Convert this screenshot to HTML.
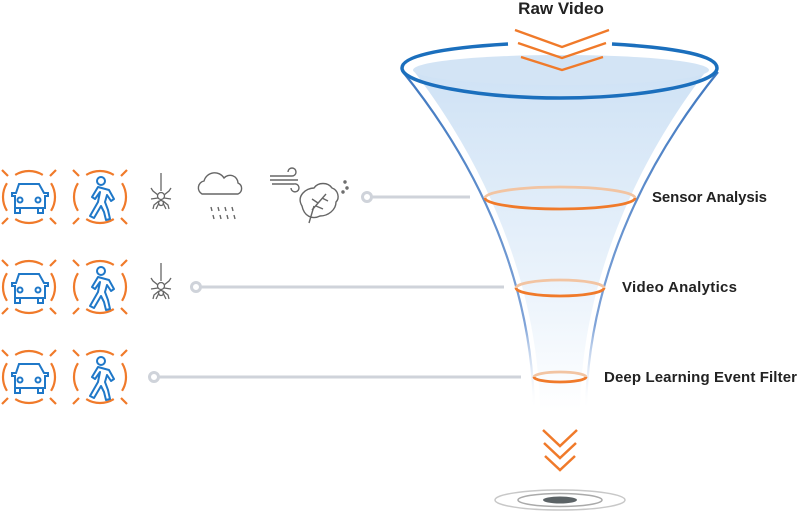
<!DOCTYPE html>
<html><head><meta charset="utf-8"><style>
html,body{margin:0;padding:0;background:#fff;}
svg{display:block;font-family:"Liberation Sans",sans-serif;}
</style></head><body>
<svg width="800" height="515" viewBox="0 0 800 515" xmlns="http://www.w3.org/2000/svg">
<defs>
<linearGradient id="fg" x1="0" y1="0" x2="0" y2="1">
<stop offset="0" stop-color="#cfe2f5"/><stop offset="0.7" stop-color="#eef5fc"/><stop offset="1" stop-color="#ffffff"/>
</linearGradient>
<linearGradient id="wg" x1="0" y1="0" x2="0" y2="1">
<stop offset="0" stop-color="#3f78c0"/><stop offset="0.75" stop-color="#7fa3d8"/><stop offset="1" stop-color="#ffffff" stop-opacity="0"/>
</linearGradient>
<g id="ring" fill="none" stroke="#f07a2a" stroke-width="2.2">
<path d="M22.05,-13.78 A26,26 0 0 1 22.05,13.78"/>
<path d="M22.05,-13.78 A26,26 0 0 1 22.05,13.78" transform="rotate(90)"/>
<path d="M22.05,-13.78 A26,26 0 0 1 22.05,13.78" transform="rotate(180)"/>
<path d="M22.05,-13.78 A26,26 0 0 1 22.05,13.78" transform="rotate(270)"/>
<path d="M21,21 L27,27 M-21,21 L-27,27 M21,-21 L27,-27 M-21,-21 L-27,-27"/>
</g>
<g id="car">
<use href="#ring"/>
<g fill="none" stroke="#1f78c8" stroke-width="2">
<path d="M-10,-13 h20 l5,9 h4 v3 h-3 v12 h-30 v-12 h-3 v-3 h4 z"/>
<circle cx="-9" cy="3" r="2.5"/><circle cx="9" cy="3" r="2.5"/>
<path d="M-14,11 v5 h5 v-5 M14,11 v5 h-5 v-5"/>
</g>
</g>
<g id="ped">
<use href="#ring"/>
<g fill="none" stroke="#1f78c8" stroke-width="2" stroke-linejoin="round">
<circle cx="1" cy="-16" r="4"/>
<path d="M-2,-10 l-6,10 l3,2 l5,-7 l-2,10 l-8,14 l4,2 l7,-12 l3,6 l2,8 l4,-1 l-2,-9 l-3,-8 l2,-7 l4,6 l3,-2 l-5,-9 z"/>
</g>
</g>
<g id="spider" stroke="#666" stroke-width="1.3" fill="none">
<path d="M0,-27 v18"/><circle cx="0" cy="-4" r="3.5"/><circle cx="0" cy="3" r="2.5"/>
<path d="M-3,-5 l-5,-4 l-2,-3 M3,-5 l5,-4 l2,-3 M-3,-2 l-7,1 M3,-2 l7,1 M-2,1 l-5,4 l-1,4 M2,1 l5,4 l1,4 M-2,3 l-3,6 M2,3 l3,6"/>
</g>
</defs>

<path d="M413,70 C490,170 538,290 540,410 L580,410 C582,290 630,170 707,70 Z" fill="url(#fg)"/>
<ellipse cx="561" cy="70" rx="148" ry="15" fill="#d3e4f5"/>
<path d="M403,72 C482,170 532,285 534,410" fill="none" stroke="url(#wg)" stroke-width="2.2"/>
<path d="M718,72 C639,170 588,285 586,410" fill="none" stroke="url(#wg)" stroke-width="2.2"/>
<path d="M508,44 C440,48 402,56 402,68 C402,84 480,98 560,98 C640,98 717,84 717,68 C717,56 680,48 612,44" fill="none" stroke="#1b6fbd" stroke-width="3.5"/>
<text x="561" y="14" text-anchor="middle" font-size="17" font-weight="bold" fill="#222">Raw Video</text>
<g fill="none" stroke="#f07a2a" stroke-width="2.3">
<path d="M515,30 l47,17 l47,-17"/><path d="M518,43 l44,15 l44,-15"/><path d="M521,57 l41,13 l41,-13"/>
</g>

<g fill="none" stroke-width="2.8">
<path d="M485,198 A75,11 0 0 1 635,198" stroke="#f2c4a2"/><path d="M485,198 A75,11 0 0 0 635,198" stroke="#f07a2a"/>
<path d="M516,288 A44,8 0 0 1 604,288" stroke="#f2c4a2"/><path d="M516,288 A44,8 0 0 0 604,288" stroke="#f07a2a"/>
<path d="M534,377 A26,5 0 0 1 586,377" stroke="#f2c4a2"/><path d="M534,377 A26,5 0 0 0 586,377" stroke="#f07a2a"/>
</g>
<g font-size="15" font-weight="bold" fill="#222">
<text x="652" y="202" textLength="115">Sensor Analysis</text>
<text x="622" y="292" textLength="115">Video Analytics</text>
<text x="604" y="382" textLength="193">Deep Learning Event Filter</text>
</g>

<g stroke="#cfd3da" stroke-width="3" fill="none">
<line x1="372" y1="197" x2="470" y2="197"/><circle cx="367" cy="197" r="4.5"/>
<line x1="201" y1="287" x2="504" y2="287"/><circle cx="196" cy="287" r="4.5"/>
<line x1="159" y1="377" x2="521" y2="377"/><circle cx="154" cy="377" r="4.5"/>
</g>

<use href="#car" x="29" y="197"/><use href="#ped" x="100" y="197"/>
<use href="#car" x="29" y="287"/><use href="#ped" x="100" y="287"/>
<use href="#car" x="29" y="377"/><use href="#ped" x="100" y="377"/>
<use href="#spider" x="161" y="200"/><use href="#spider" x="161" y="290"/>
<g stroke="#666" stroke-width="1.4" fill="none">
<path d="M202,194 a7,7 0 0 1 2,-13 a11,11 0 0 1 20,-3 a8,8 0 0 1 14,5 a6,6 0 0 1 0,11 z"/>
<path d="M211,207 l1,4 M218,207 l1,4 M225,207 l1,4 M232,207 l1,4 M213,215 l1,4 M220,215 l1,4 M227,215 l1,4 M234,215 l1,4"/>
<path d="M270,176 h22 a4,4 0 1 0 -4,-4 M270,180 h28 M272,184 h22 a4,4 0 1 1 -3,4"/>
<path d="M309,223 l5,-17 M302,206 c-6,-10 4,-18 12,-18 c4,-6 14,-6 18,0 c6,2 8,10 4,14 c0,8 -8,14 -16,14 c-8,4 -16,0 -18,-10 z"/>
<path d="M312,210 l14,-16 M318,203 l-6,-4 M322,198 l6,3 M316,206 l7,3"/>
<circle cx="345" cy="182" r="1"/><circle cx="347" cy="188" r="1"/><circle cx="343" cy="192" r="1"/>
</g>

<g fill="none" stroke="#f07a2a" stroke-width="2.5">
<path d="M543,430 l17,16 l17,-16"/><path d="M544,443 l16,15 l16,-15"/><path d="M545,456 l15,14 l15,-14"/>
</g>
<ellipse cx="560" cy="500" rx="65" ry="10" fill="none" stroke="#c8c8c8" stroke-width="1.5"/>
<ellipse cx="560" cy="500" rx="42" ry="6.5" fill="none" stroke="#aaa" stroke-width="1.5"/>
<ellipse cx="560" cy="500" rx="17" ry="3.5" fill="#5c6366"/>
</svg>
</body></html>
